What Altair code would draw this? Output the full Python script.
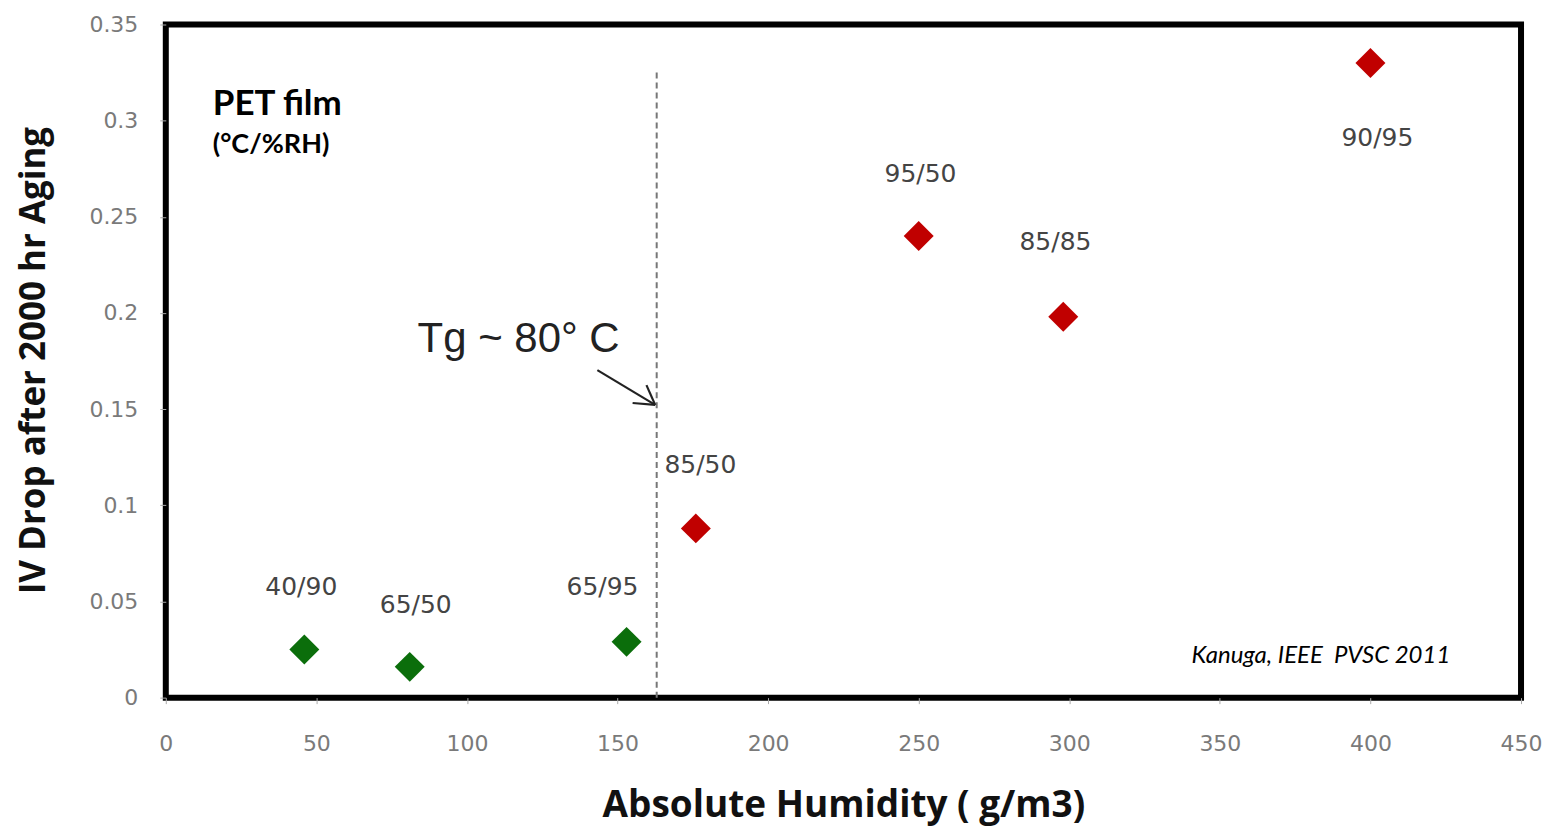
import altair as alt
import pandas as pd

# ---- data ----
humidity = [46, 81, 153, 176, 250, 298, 400]            # g/m3
iv_drop = [0.025, 0.016, 0.029, 0.088, 0.240, 0.198, 0.330]
condition = ["40/90", "65/50", "65/95", "85/50", "95/50", "85/85", "90/95"]
regime = ["below Tg", "below Tg", "below Tg", "above Tg", "above Tg", "above Tg", "above Tg"]
label_x = [45, 83, 145, 177.5, 250.6, 295.4, 402.3]
label_y = [0.0535, 0.0441, 0.0535, 0.1168, 0.2681, 0.233, 0.287]

x_ticks = [0, 50, 100, 150, 200, 250, 300, 350, 400, 450]
y_ticks = [0, 0.05, 0.1, 0.15, 0.2, 0.25, 0.3, 0.35]

tg_x = [163]
tg_top = [0.325]
tg_text = ["Tg ~ 80° C"]
tg_text_x = [83.6]
tg_text_y = [0.1797]

arrow_x = [143.3, 155.0, 159.6]
arrow_y = [0.1703, 0.1532, 0.1625]
arrow_tip_x = [162.5, 162.5, 162.5]
arrow_tip_y = [0.1522, 0.1522, 0.1522]

note_text = ["PET film", "(°C/%RH)", "Kanuga, IEEE\u00a0\u00a0PVSC 2011"]
note_x = [15.6, 15.6, 340.6]
note_y = [0.3027, 0.283, 0.0182]

W, H = 1357, 674

pts = pd.DataFrame({"h": humidity, "iv": iv_drop, "cond": condition, "regime": regime,
                    "lx": label_x, "ly": label_y})

xs = alt.Scale(domain=[0, 450], nice=False, zero=True)
ys = alt.Scale(domain=[0, 0.35], nice=False, zero=True)

x_axis = alt.Axis(values=x_ticks, title="Absolute Humidity ( g/m3)", titleY=119,
                  titleBaseline="alphabetic", labelPadding=30, tickSize=6,
                  titleFontSize=37, labelFlush=False, labelOverlap=False)
y_axis = alt.Axis(values=y_ticks, format="~g", title="IV Drop after 2000 hr Aging",
                  titleX=-132, titleY=336, titleBaseline="middle", titleAngle=-90,
                  labelPadding=22, tickSize=6, titleFontSize=35, labelFlush=False,
                  labelOverlap=False)

points = alt.Chart(pts).mark_point(shape="diamond", filled=True, size=900, opacity=1).encode(
    x=alt.X("h:Q", scale=xs, axis=x_axis),
    y=alt.Y("iv:Q", scale=ys, axis=y_axis),
    color=alt.Color("regime:N", scale=alt.Scale(domain=["below Tg", "above Tg"],
                                                range=["#0b6e0b", "#c00000"]), legend=None),
)

labels = alt.Chart(pts).mark_text(font="DejaVu Sans", fontSize=25, color="#444444",
                                  baseline="alphabetic", align="center").encode(
    x=alt.X("lx:Q", scale=xs), y=alt.Y("ly:Q", scale=ys), text="cond:N")

tg_df = pd.DataFrame({"x": tg_x, "top": tg_top, "bottom": [0]})
tg_line = alt.Chart(tg_df).mark_rule(color="#777777", strokeWidth=2, strokeDash=[6, 4]).encode(
    x=alt.X("x:Q", scale=xs), y=alt.Y("top:Q", scale=ys), y2="bottom:Q")

tg_lab = alt.Chart(pd.DataFrame({"x": tg_text_x, "y": tg_text_y, "t": tg_text})).mark_text(
    font="Liberation Sans", fontSize=42, color="#222222", align="left", baseline="alphabetic"
).encode(x=alt.X("x:Q", scale=xs), y=alt.Y("y:Q", scale=ys), text="t:N")

arr_df = pd.DataFrame({"x": arrow_x, "y": arrow_y, "x2": arrow_tip_x, "y2": arrow_tip_y})
arrow = alt.Chart(arr_df).mark_rule(color="#222222", strokeWidth=2.2).encode(
    x=alt.X("x:Q", scale=xs), y=alt.Y("y:Q", scale=ys), x2="x2:Q", y2="y2:Q")

notes_df = pd.DataFrame({"x": note_x, "y": note_y, "t": note_text})
note1 = alt.Chart(notes_df.iloc[[0]]).mark_text(font="Lato", fontSize=35, fontWeight="bold",
                                                 align="left", baseline="alphabetic", color="black"
).encode(x=alt.X("x:Q", scale=xs), y=alt.Y("y:Q", scale=ys), text="t:N")
note2 = alt.Chart(notes_df.iloc[[1]]).mark_text(font="Lato", fontSize=27, fontWeight="bold",
                                                 align="left", baseline="alphabetic", color="black"
).encode(x=alt.X("x:Q", scale=xs), y=alt.Y("y:Q", scale=ys), text="t:N")
note3 = alt.Chart(notes_df.iloc[[2]]).mark_text(font="Lato", fontSize=24, fontStyle="italic",
                                                 align="left", baseline="alphabetic", color="black"
).encode(x=alt.X("x:Q", scale=xs), y=alt.Y("y:Q", scale=ys), text="t:N")

chart = alt.layer(tg_line, points, labels, tg_lab, arrow, note1, note2, note3).properties(
    width=W, height=H,
    background="white",
    autosize=alt.AutoSizeParams(type="none"),
    padding={"left": 158, "top": 16, "right": 22, "bottom": 130},
).configure_view(
    stroke="black", strokeWidth=6
).configure_axis(
    domain=False, grid=False, tickColor="#aaaaaa", tickWidth=1,
    labelFont="DejaVu Sans", labelFontSize=22, labelColor="#7a7a7a",
    titleFont="Open Sans", titleFontWeight="bold", titleColor="#111111",
)

chart.save("out.html", embed_options={"renderer": "svg", "actions": False})
